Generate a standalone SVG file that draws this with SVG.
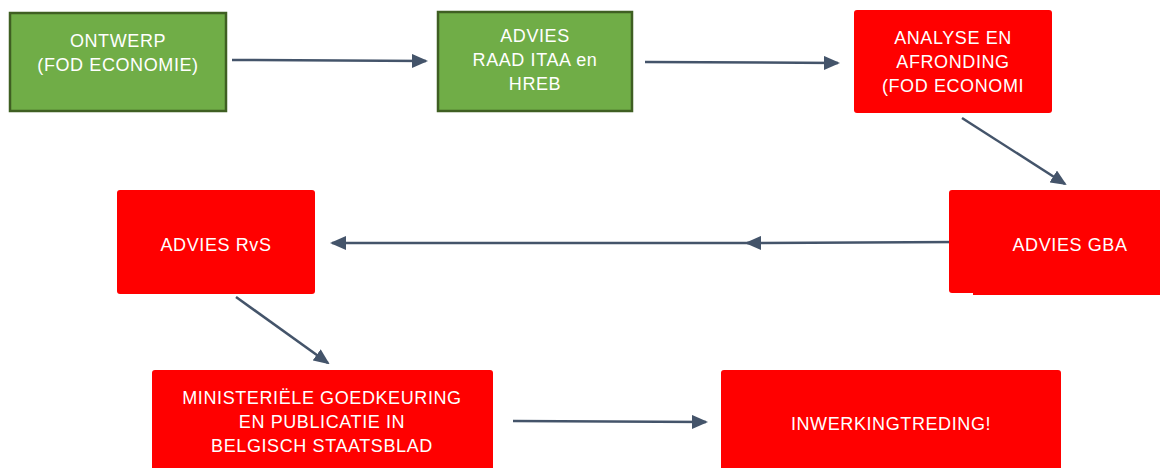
<svg xmlns="http://www.w3.org/2000/svg" width="1160" height="468" viewBox="0 0 1160 468">
<defs>
<style>
.g{fill:#70ad47;stroke:#3f5f22;stroke-width:2.5}
.r{fill:#ff0000}
.t{font-family:"Liberation Sans",Arial,sans-serif;font-size:18px;fill:#ffffff;text-anchor:middle;letter-spacing:0.6px}
.c{fill:none;stroke:#44546a;stroke-width:2.5}
</style>
<marker id="ahb" markerWidth="16" markerHeight="14" refX="14" refY="7" orient="auto" markerUnits="userSpaceOnUse">
<path d="M0,0 L16,7 L0,14 Z" fill="#44546a"/>
</marker>
</defs>
<rect width="1160" height="468" fill="#ffffff"/>
<g id="connectors">
<path class="c" d="M232,60 L426,61" marker-end="url(#ahb)"/>
<path class="c" d="M645,62 L838,63" marker-end="url(#ahb)"/>
<path class="c" d="M962,118 L1065,184" marker-end="url(#ahb)"/>
<path class="c" d="M958,242 L747,243" marker-end="url(#ahb)"/>
<path class="c" d="M750,243 L332,243" marker-end="url(#ahb)"/>
<path class="c" d="M236,297 L328,363" marker-end="url(#ahb)"/>
<path class="c" d="M513,421 L706,422" marker-end="url(#ahb)"/>
</g>
<g id="ontwerp">
<rect class="g" x="10" y="13" width="216" height="98"/>
<text class="t" x="118" y="47">ONTWERP</text>
<text class="t" x="118" y="71">(FOD ECONOMIE)</text>
</g>
<g id="advies-itaa">
<rect class="g" x="438" y="12" width="194" height="99"/>
<text class="t" x="535" y="42">ADVIES</text>
<text class="t" x="535" y="66">RAAD ITAA en</text>
<text class="t" x="535" y="90">HREB</text>
</g>
<g id="analyse">
<rect class="r" x="854" y="10" width="198" height="103" rx="3"/>
<text class="t" x="953" y="44">ANALYSE EN</text>
<text class="t" x="953" y="68">AFRONDING</text>
<text class="t" x="953" y="92">(FOD ECONOMI</text>
</g>
<g id="advies-gba">
<rect class="r" x="949" y="190" width="215" height="103" rx="3"/>
<rect class="r" x="973" y="200" width="191" height="95"/>
<text class="t" x="1070" y="251">ADVIES GBA</text>
</g>
<g id="advies-rvs">
<rect class="r" x="117" y="190" width="198" height="104" rx="3"/>
<text class="t" x="216" y="251">ADVIES RvS</text>
</g>
<g id="ministeriele">
<rect class="r" x="152" y="370" width="341" height="104" rx="3"/>
<text class="t" x="322" y="404">MINISTERIËLE GOEDKEURING</text>
<text class="t" x="322" y="428">EN PUBLICATIE IN</text>
<text class="t" x="322" y="452">BELGISCH STAATSBLAD</text>
</g>
<g id="inwerkingtreding">
<rect class="r" x="721" y="370" width="340" height="104" rx="3"/>
<text class="t" x="891" y="430">INWERKINGTREDING!</text>
</g>
</svg>
